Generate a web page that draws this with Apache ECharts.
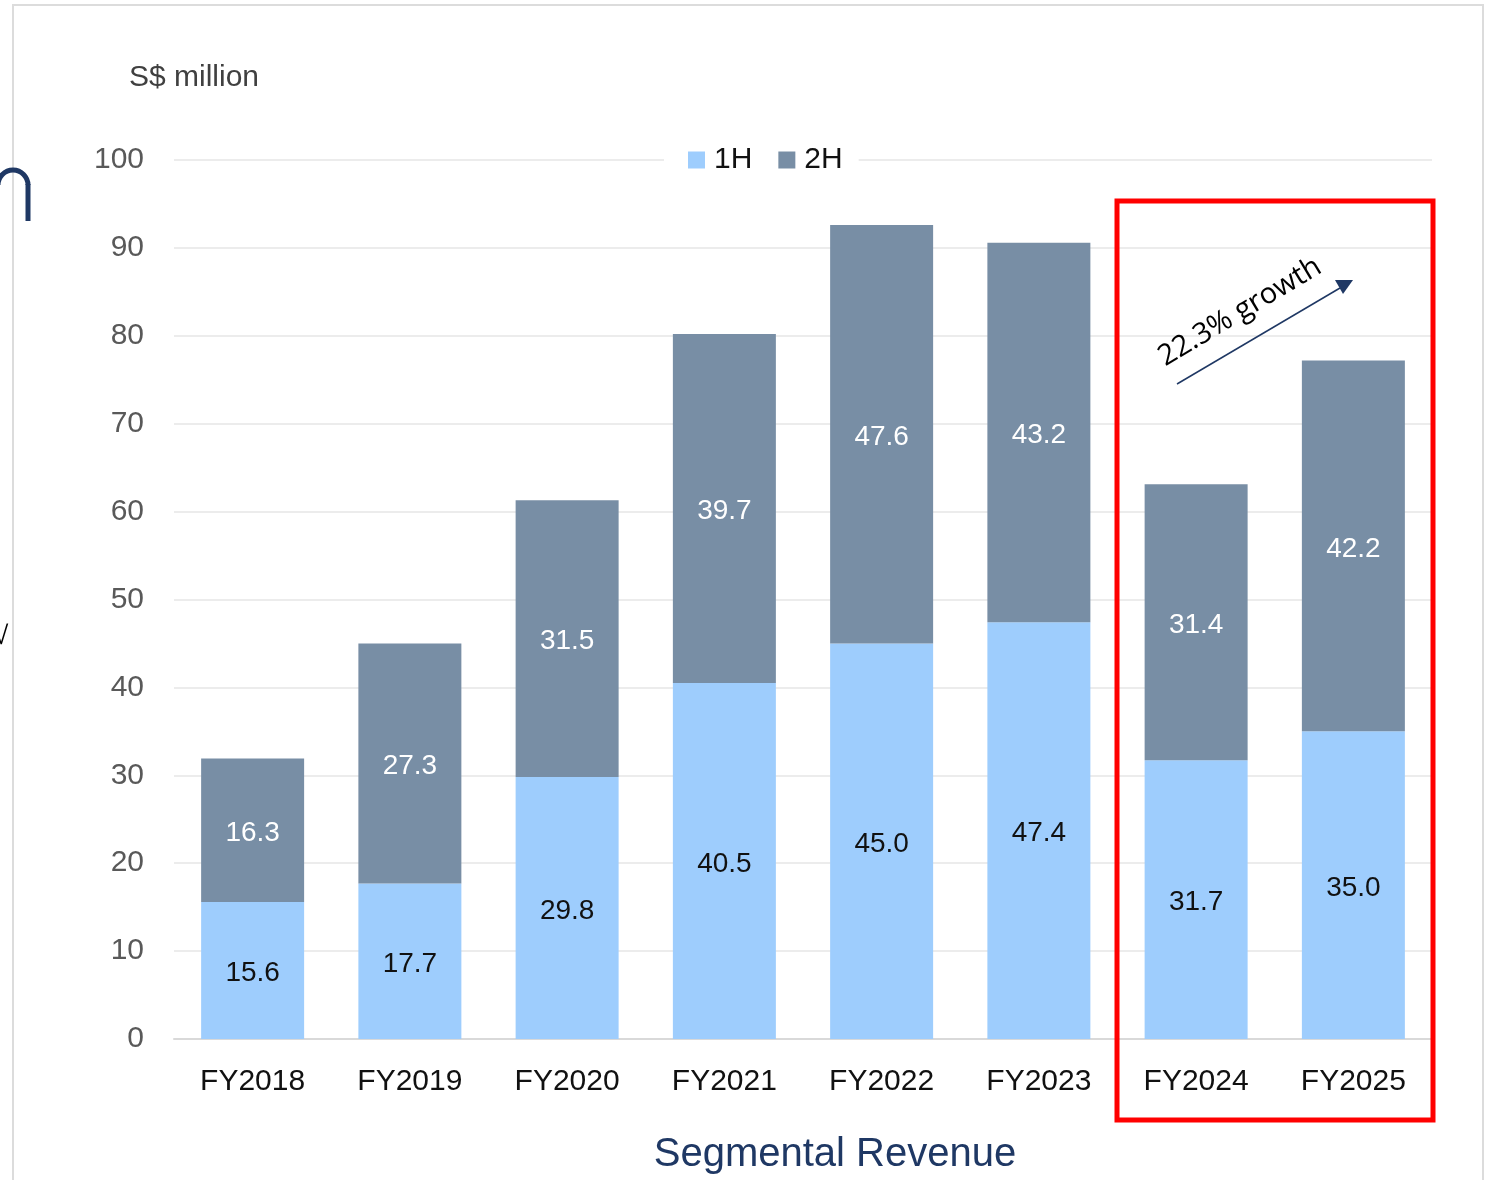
<!DOCTYPE html>
<html>
<head>
<meta charset="utf-8">
<script src="https://cdn.jsdelivr.net/npm/echarts@6/dist/echarts.min.js"></script>
<style>html,body{margin:0;padding:0;background:#fff;}#c{width:1488px;height:1180px;}</style>
</head>
<body>
<div id="c"></div>
<script>
const categories = ['FY2018','FY2019','FY2020','FY2021','FY2022','FY2023','FY2024','FY2025'];
const firstHalf = [15.6, 17.7, 29.8, 40.5, 45.0, 47.4, 31.7, 35.0];
const secondHalf = [16.3, 27.3, 31.5, 39.7, 47.6, 43.2, 31.4, 42.2];
const seriesNames = ['1H', '2H'];
const yTicks = {min: 0, max: 100, interval: 10};

const FONT = '"Liberation Sans", Arial, sans-serif';
const chart = echarts.init(document.getElementById('c'), null, {renderer: 'canvas'});
const option = {
  backgroundColor: '#fff',
  animation: false,
  grid: {left: 174, right: 56, top: 160, bottom: 141, containLabel: false},
  legend: {
    data: seriesNames,
    left: 664, top: 144,
    padding: [1, 16, 1, 24],
    backgroundColor: '#fff',
    itemWidth: 17, itemHeight: 17, itemGap: 26,
    icon: 'rect',
    textStyle: {fontFamily: FONT, fontSize: 30, color: '#111', padding: [3, 0, 0, 4]}
  },
  xAxis: {
    type: 'category', data: categories,
    axisLine: {lineStyle: {color: '#d9d9d9', width: 2}},
    axisTick: {show: false},
    axisLabel: {fontFamily: FONT, fontSize: 30, color: '#111', margin: 28}
  },
  yAxis: {
    type: 'value', min: yTicks.min, max: yTicks.max, interval: yTicks.interval,
    axisLine: {show: false}, axisTick: {show: false},
    splitLine: {lineStyle: {color: '#ececec', width: 2}},
    axisLabel: {fontFamily: FONT, fontSize: 30, color: '#595959', margin: 30, padding: [8, 0, 0, 0]}
  },
  series: [
    {
      name: seriesNames[0], type: 'bar', stack: 'total', data: firstHalf, barWidth: '65.5%',
      itemStyle: {color: '#9ecdfd'},
      label: {show: true, position: 'inside', offset: [0, 3], fontFamily: FONT, fontSize: 28, color: '#111',
        formatter: p => p.value.toFixed(1)}
    },
    {
      name: seriesNames[1], type: 'bar', stack: 'total', data: secondHalf, barWidth: '65.5%',
      itemStyle: {color: '#788ea5'},
      label: {show: true, position: 'inside', offset: [0, 3], fontFamily: FONT, fontSize: 28, color: '#fff',
        formatter: p => p.value.toFixed(1)}
    }
  ],
  graphic: [
    {type: 'polyline', shape: {points: [[13, 1180], [13, 5], [1483, 5], [1483, 1180]]},
      style: {stroke: '#dcdcdc', lineWidth: 2, fill: null}, z: 0},
    {type: 'text', x: 129, y: 63, style: {text: 'S$ million', font: '30px ' + FONT, fill: '#404040'}},
    {type: 'text', x: 835, y: 1155, style: {text: 'Segmental Revenue', font: '40px ' + FONT, fill: '#1f3864', align: 'center', verticalAlign: 'middle'}},
    {type: 'arc', shape: {cx: 13, cy: 185, r: 15, startAngle: Math.PI, endAngle: 2 * Math.PI},
      style: {stroke: '#1f3864', lineWidth: 5, fill: null}},
    {type: 'line', shape: {x1: 28, y1: 184, x2: 28, y2: 221},
      style: {stroke: '#1f3864', lineWidth: 5}},
    {type: 'text', x: -6, y: 624, style: {text: '\u221A', font: '26px ' + FONT, fill: '#000'}},
    {type: 'rect', shape: {x: 1117, y: 201, width: 316, height: 919},
      style: {stroke: '#ff0000', lineWidth: 5, fill: null}, z: 100},
    {type: 'line', shape: {x1: 1177, y1: 384, x2: 1340, y2: 288},
      style: {stroke: '#1f3864', lineWidth: 1.5}, z: 100},
    {type: 'polygon', shape: {points: [[1353, 280], [1335, 280], [1343, 294]]},
      style: {fill: '#1f3864'}, z: 100},
    {type: 'text', x: 1240, y: 312, rotation: 31 * Math.PI / 180,
      style: {text: '22.3% growth', font: '29px "Open Sans", ' + FONT, fill: '#000', align: 'center', verticalAlign: 'middle'}, z: 100}
  ]
};
chart.setOption(option);
</script>
</body>
</html>
